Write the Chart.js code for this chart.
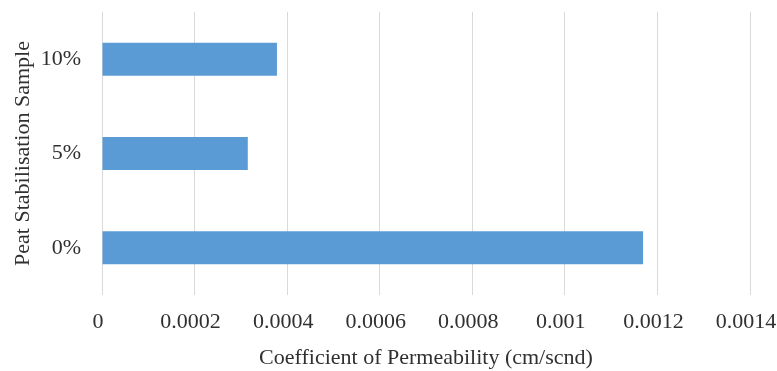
<!DOCTYPE html>
<html>
<head>
<meta charset="utf-8">
<script src="https://cdn.jsdelivr.net/npm/chart.js@4/dist/chart.umd.min.js"></script>
<style>
  html, body { margin: 0; padding: 0; background: #fff; }
  #wrap { width: 777px; height: 371px; }
</style>
</head>
<body>
<div id="wrap"><canvas id="perm"></canvas></div>
<script>
document.addEventListener('DOMContentLoaded', function () {

	'use strict';

	// samples, top to bottom
	const samples = ['10%', '5%', '0%'];
	// coefficient of permeability, cm/s
	const permeability = [0.000378, 0.000315, 0.001169];
	// x axis range
	const xMin = 0;
	const xMax = 0.0014;
	const xStep = 0.0002;

	const serif = "'Liberation Serif', 'Times New Roman', serif";
	const ink = '#303030';

	new Chart(document.getElementById('perm'), {
		type: 'bar',
		data: {
			labels: samples,
			datasets: [{
				data: permeability,
				backgroundColor: '#5b9bd5',
				borderWidth: 0,
				categoryPercentage: 1,
				barPercentage: 0.35
			}]
		},
		options: {
			indexAxis: 'y',
			responsive: true,
			maintainAspectRatio: false,
			animation: false,
			layout: { padding: { top: 12, left: 0, right: 27, bottom: 0 } },
			plugins: {
				legend: { display: false },
				tooltip: { enabled: false }
			},
			scales: {
				x: {
					min: xMin,
					max: xMax,
					grid: { color: '#d9d9d9', lineWidth: 1, drawTicks: false },
					border: { display: false },
					ticks: {
						stepSize: xStep,
						padding: 14,
						labelOffset: -4,
						maxRotation: 0,
						color: ink,
						font: { family: serif, size: 22 },
						callback: function (v) { return String(Number(v.toFixed(4))); }
					},
					title: {
						display: true,
						text: 'Coefficient of Permeability (cm/scnd)',
						color: ink,
						font: { family: serif, size: 22 },
						padding: { top: 0, bottom: 0 }
					},
					// fixed axis band, no extra side padding from the end labels
					afterFit: function (s) {
						s.height = 76;
						s.paddingLeft = 0;
						s.paddingRight = 0;
					}
				},
				y: {
					grid: { display: false, drawTicks: false },
					border: { display: false },
					ticks: {
						padding: 21,
						color: ink,
						font: { family: serif, size: 22 }
					},
					title: {
						display: true,
						text: 'Peat Stabilisation Sample',
						color: ink,
						font: { family: serif, size: 22 },
						padding: { top: 10, bottom: 0 }
					},
					afterFit: function (s) {
						s.width = 102;
						s.paddingTop = 0;
						s.paddingBottom = 0;
					}
				}
			}
		}
	});
});
</script>
</body>
</html>
